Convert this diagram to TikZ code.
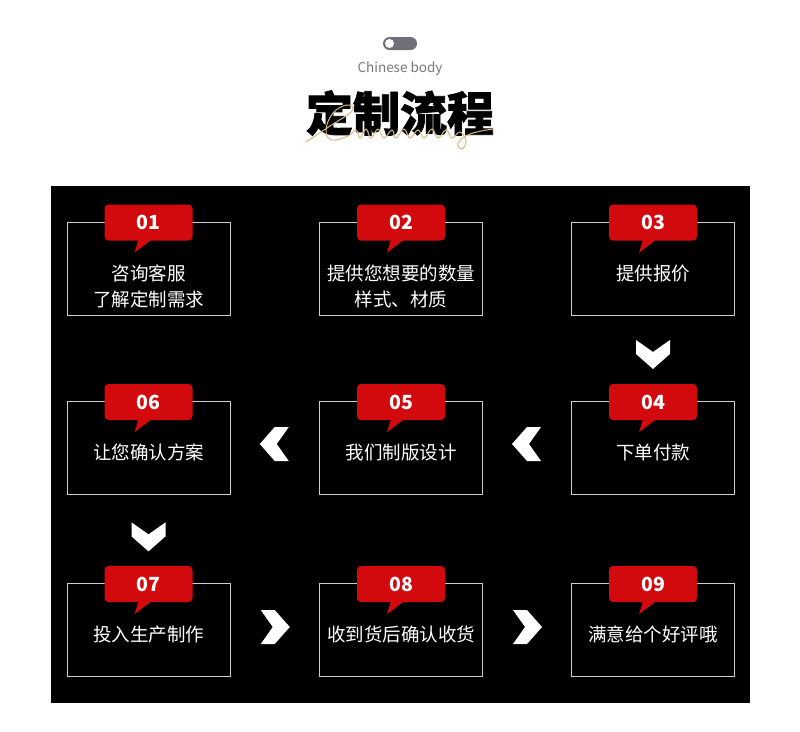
\documentclass[tikz,border=0pt]{standalone}
\usepackage{fontspec}
\setmainfont{Noto Sans CJK SC}
\newfontfamily\heavyfont[BoldFeatures={FakeBold=1.6}]{Noto Sans CJK SC}
\usepackage{tikz}
\usetikzlibrary{calc, positioning}

\definecolor{tagred}{RGB}{210,10,14}
\definecolor{linegray}{RGB}{205,205,205}
\definecolor{goldline}{RGB}{214,184,128}
\definecolor{togglegray}{RGB}{112,112,120}
\definecolor{subgray}{RGB}{120,120,120}

\tikzset{
    chev/.pic={\fill[white] (-15,0) -- (0,-17) -- (14,-17) -- (2,0) -- (14,17) -- (0,17) -- cycle;}
}

\begin{document}
\begin{tikzpicture}[x=1pt, y=-1pt,
    stepbox/.style={draw=linegray, line width=0.9pt, minimum width=163pt, minimum height=93pt, inner sep=0pt},
    tag/.style={fill=tagred, rounded corners=4pt, minimum width=88pt, minimum height=36pt, inner sep=0pt, text=white, font=\fontsize{19.5}{20}\selectfont\bfseries},
    steptext/.style={text=white, align=center, inner sep=0pt, font=\fontsize{18.5}{26}\selectfont}
]
    % Canvas
    \useasboundingbox (0,0) rectangle (800,731);
    \fill[white] (0,0) rectangle (800,731);

    % Header
    \fill[togglegray, rounded corners=6.5pt] (383,37) rectangle (417,50);
    \fill[white] (389.5,43.5) circle (4.5pt);
    \node[text=subgray, font=\fontsize{13.5}{14}\selectfont] (sub) at (400,68.5) {Chinese body};
    \node[font=\fontsize{47}{50}\selectfont\heavyfont\bfseries] (title) at (400,113) {定制流程};
    \draw[goldline, line width=1pt] plot[smooth, tension=0.7] coordinates {
        (306,142) (330,126) (352,111) (347,105) (333,113) (326,130) (332,140) (348,136)
        (356,130) (360,138) (366,129) (371,138) (378,129) (384,138) (392,130) (396,138)
        (404,129) (410,138) (418,130) (424,138) (432,129) (438,138) (446,130) (452,138)
        (460,132) (466,141) (462,149) (458,143) (470,134) (493,129)};

    % Panel
    \fill[black] (51,186) rectangle (750,703);

    % Steps
    \foreach \n/\x/\y/\txt in {
        1/148.5/268.5/{咨询客服\\了解定制需求},
        2/401/268.5/{提供您想要的数量\\样式、材质},
        3/653/268.5/{提供报价},
        4/653/448/{下单付款},
        5/401/448/{我们制版设计},
        6/148.5/448/{让您确认方案},
        7/148.5/630/{投入生产制作},
        8/401/630/{收到货后确认收货},
        9/653/630/{满意给个好评哦}} {
        \node[stepbox] (b\n) at (\x,\y) {};
        \node[tag] (t\n) at ([yshift=-1pt]b\n.north) {0\n};
        \fill[tagred] ([xshift=-10pt, yshift=1pt]t\n.south) -- ([xshift=3pt, yshift=1pt]t\n.south)
            -- ([xshift=-14pt, yshift=-12pt]t\n.south) -- cycle;
        \node[steptext, anchor=north] (l\n) at ([yshift=-43pt]b\n.north) {\txt};
    }

    % Chevrons between steps
    \pic[rotate=90] at ($(b3.south)!0.45!(b4.north)$) {chev};
    \pic at ($(b4.west)!0.5!(b5.east) + (0,-4)$) {chev};
    \pic at ($(b5.west)!0.5!(b6.east) + (0,-4)$) {chev};
    \pic[rotate=90] at ($(b6.south)!0.47!(b7.north)$) {chev};
    \pic[rotate=180] at ($(b7.east)!0.5!(b8.west) + (0,-3)$) {chev};
    \pic[rotate=180] at ($(b8.east)!0.5!(b9.west) + (0,-3)$) {chev};
\end{tikzpicture}
\end{document}
